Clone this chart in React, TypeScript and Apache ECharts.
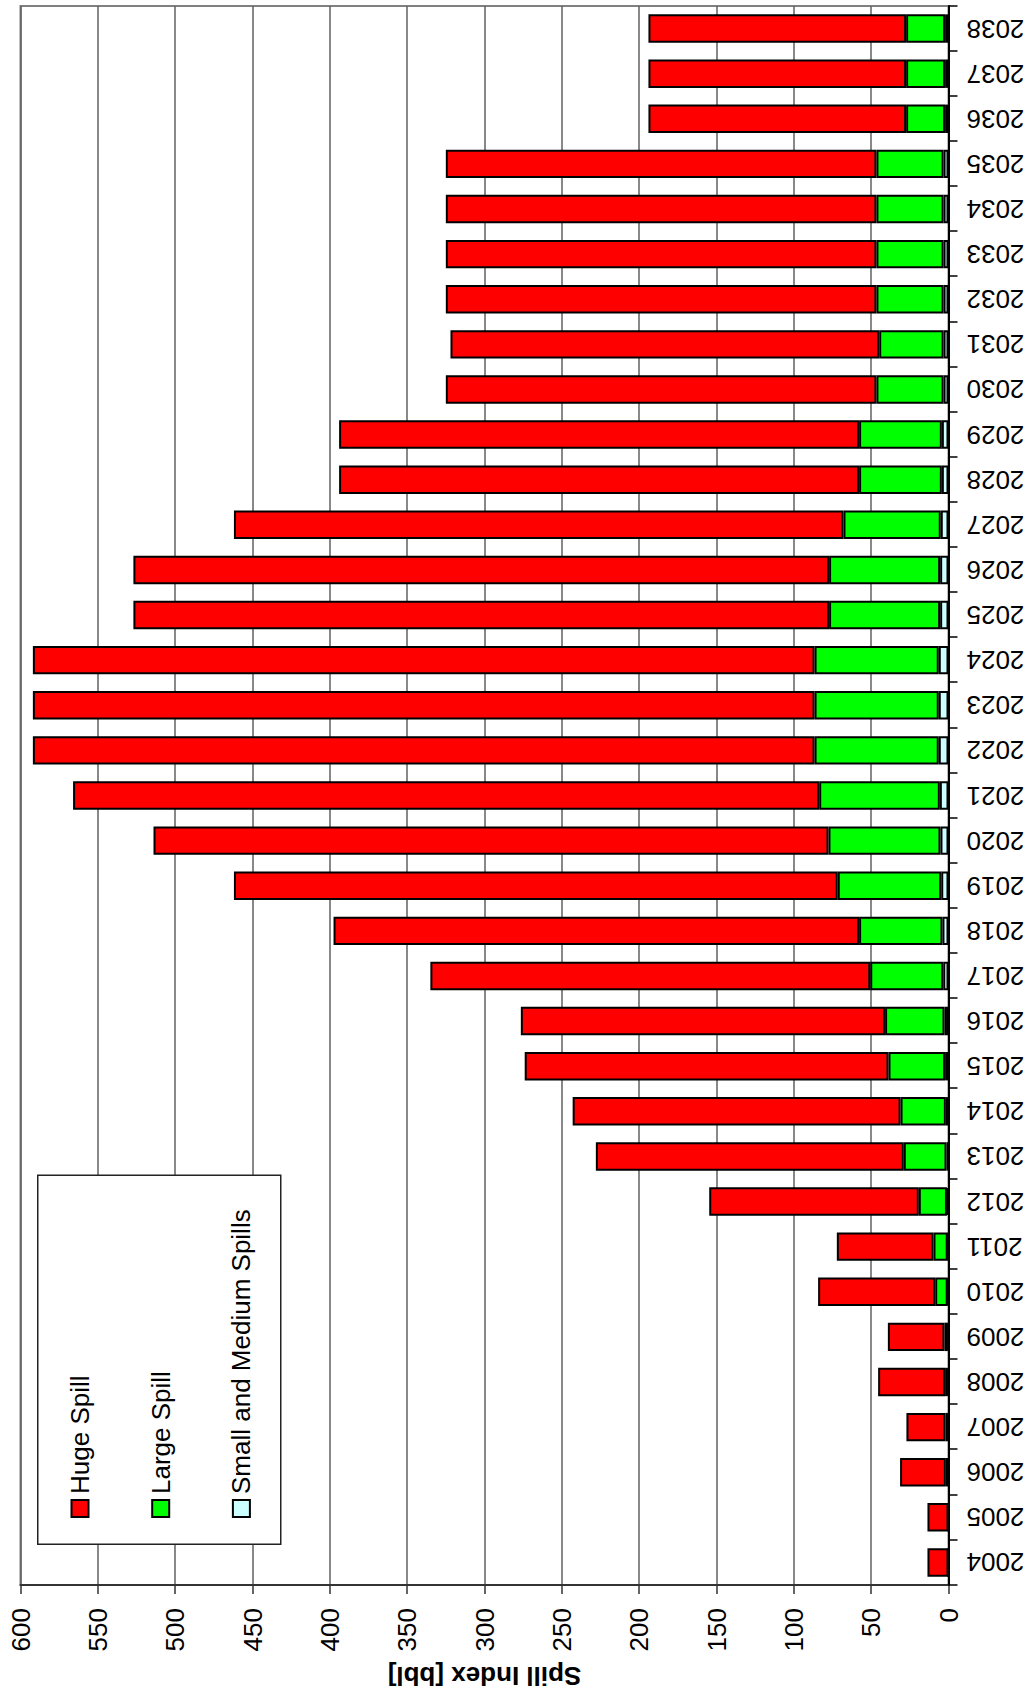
import React, { useEffect, useRef } from "react";
import * as echarts from "echarts";

const years = [
  "2004", "2005", "2006", "2007", "2008", "2009", "2010", "2011", "2012", "2013",
  "2014", "2015", "2016", "2017", "2018", "2019", "2020", "2021", "2022", "2023",
  "2024", "2025", "2026", "2027", "2028", "2029", "2030", "2031", "2032", "2033",
  "2034", "2035", "2036", "2037", "2038",
];

const hugeSpill = [
  13.6, 13.6, 29.6, 25.2, 43.3, 36.6, 75.7, 62.5, 135.5, 199.1,
  212, 235.2, 235.5, 284.4, 339.8, 390.4, 436.4, 482.4, 505.4, 505.4,
  505.4, 449.8, 449.8, 394.1, 336.2, 336.2, 278.4, 277.2, 278.4, 278.4,
  278.4, 278.4, 166.6, 166.6, 166.6,
];

const largeSpill = [
  0, 0, 1.4, 1.5, 1.7, 2.1, 8.1, 9.2, 18.2, 27.6,
  29.3, 36.6, 38.4, 47.2, 53.9, 66.9, 72.4, 78, 80.3, 80.3,
  80.3, 71.8, 71.8, 62.9, 53.5, 53.5, 43.4, 41.6, 43.4, 43.4,
  43.4, 43.4, 25.2, 25.2, 25.2,
];

const smallMediumSpills = [
  0, 0, 0.3, 0.5, 0.5, 0.5, 0.5, 0.5, 1, 1.3,
  1.7, 2.2, 2.6, 3.4, 3.9, 4.7, 5.2, 5.6, 6.3, 6.3,
  6.3, 5.4, 5.4, 5, 4.3, 4.3, 3.2, 3.2, 3.2, 3.2,
  3.2, 3.2, 2.2, 2.2, 2.2,
];

const seriesNames = ["Huge Spill", "Large Spill", "Small and Medium Spills"];
const axisTitle = "Spill Index [bbl]";

const FONT = "'Liberation Sans', Arial, Helvetica, sans-serif";

export default function App() {
  const ref = useRef<HTMLDivElement>(null);

  useEffect(() => {
    if (!ref.current) return;
    const chart = echarts.init(ref.current, undefined, { renderer: "svg" });
    const barStyle = (color: string) => ({
      color,
      borderColor: "#000",
      borderWidth: 2,
    });
    chart.setOption({
      animation: false,
      backgroundColor: "#fff",
      textStyle: { fontFamily: FONT },
      grid: {
        left: 110,
        right: 6,
        top: 20.5,
        bottom: 85.5,
        show: true,
        borderColor: "#808080",
        borderWidth: 2,
        backgroundColor: "#fff",
      },
      graphic: [
        {
          type: "rect",
          left: 152,
          top: 37,
          shape: { width: 369, height: 243 },
          style: { fill: "#fff", stroke: "#222", lineWidth: 1.5 },
          z: 50,
        },
      ],
      legend: {
        data: seriesNames,
        orient: "vertical",
        left: 174,
        top: 62,
        itemWidth: 17,
        itemHeight: 17,
        itemGap: 54.7,
        icon: "rect",
        z: 60,
        textStyle: {
          fontFamily: FONT,
          fontSize: 26,
          color: "#000",
          padding: [0, 0, 0, 1],
        },
      },
      xAxis: {
        type: "category",
        data: years,
        boundaryGap: true,
        axisLine: { show: true, lineStyle: { color: "#000", width: 2 } },
        axisTick: {
          show: true,
          alignWithLabel: false,
          interval: 0,
          length: 9,
          lineStyle: { color: "#000", width: 1.5 },
        },
        axisLabel: {
          interval: 0,
          rotate: 90,
          margin: 18,
          fontSize: 26,
          color: "#000",
          fontFamily: FONT,
        },
        splitLine: { show: false },
      },
      yAxis: {
        type: "value",
        min: 0,
        max: 600,
        interval: 50,
        name: axisTitle,
        nameLocation: "middle",
        nameRotate: 90,
        nameGap: 78,
        nameTextStyle: {
          fontFamily: FONT,
          fontSize: 26,
          fontWeight: "bold",
          color: "#000",
        },
        axisLine: { show: true, lineStyle: { color: "#333", width: 2 } },
        axisTick: {
          show: true,
          length: 9,
          lineStyle: { color: "#333", width: 1.5 },
        },
        axisLabel: {
          margin: 23,
          fontSize: 26,
          color: "#000",
          fontFamily: FONT,
        },
        splitLine: { show: true, lineStyle: { color: "#606060", width: 1.5 } },
      },
      series: [
        {
          name: seriesNames[2],
          type: "bar",
          stack: "total",
          data: smallMediumSpills,
          itemStyle: barStyle("#CCFFFF"),
          barCategoryGap: "37%",
        },
        {
          name: seriesNames[1],
          type: "bar",
          stack: "total",
          data: largeSpill,
          itemStyle: barStyle("#00FF00"),
          barCategoryGap: "37%",
        },
        {
          name: seriesNames[0],
          type: "bar",
          stack: "total",
          data: hugeSpill,
          itemStyle: barStyle("#FF0000"),
          barCategoryGap: "37%",
        },
      ],
    });
    return () => {
      chart.dispose();
    };
  }, []);

  return (
    <div
      style={{
        position: "absolute",
        left: 0,
        top: 0,
        width: 1034,
        height: 1697,
        overflow: "hidden",
        background: "#fff",
      }}
    >
      <div
        ref={ref}
        style={{
          position: "absolute",
          left: 0,
          top: 0,
          width: 1697,
          height: 1034,
          transformOrigin: "0 0",
          transform: "translate(0px, 1697px) rotate(-90deg)",
        }}
      />
    </div>
  );
}
